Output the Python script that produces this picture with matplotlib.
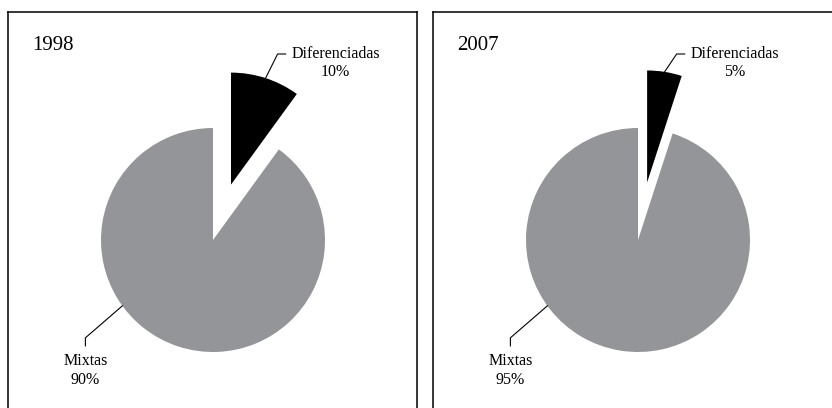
"""
Two pie charts: share of 'Diferenciadas' vs 'Mixtas' in 1998 and 2007.
Small slice exploded outwards, leader lines to serif labels.
"""
import numpy as np
import matplotlib
matplotlib.use('Agg')
import matplotlib.pyplot as plt

# data
years = ['1998', '2007']
categories = ['Diferenciadas', 'Mixtas']
shares_1998 = [10, 90]
shares_2007 = [5, 95]
all_shares = [shares_1998, shares_2007]

colors = ['#000000', '#939598']
plt.rcParams['font.family'] = ['Liberation Serif', 'DejaVu Serif']

W, H = 832, 408
fig = plt.figure(figsize=(W / 100, H / 100), dpi=100)
fig.patch.set_facecolor('white')

panel_w, panel_h = 409, 400
panel_left = [8, 433]
panel_top = 12

for k, (year, shares) in enumerate(zip(years, all_shares)):
    left = panel_left[k]
    bottom_px = panel_top + panel_h          # bottom of panel in pixels (from top)
    ax = fig.add_axes([left / W, (H - bottom_px) / H, panel_w / W, panel_h / H])

    cx, cy, r = 205, 172, 112
    # explode is given in data units by matplotlib, so scale by radius
    wedges, _ = ax.pie(shares, colors=colors, startangle=90, counterclock=False,
                       explode=[0.52 * r, 0], radius=r, center=(cx, cy),
                       frame=True, wedgeprops=dict(linewidth=0))
    ax.set_xlim(0, panel_w)
    ax.set_ylim(0, panel_h)
    ax.set_aspect('equal')
    ax.set_xticks([])
    ax.set_yticks([])
    for s in ax.spines.values():
        s.set_linewidth(1.1)
        s.set_color('black')

    ax.text(24, 367, year, fontsize=15, ha='left', va='center')

    # leader for the small (exploded) slice, from the middle of its outer arc
    w = wedges[0]
    mid = np.deg2rad((w.theta1 + w.theta2) / 2)
    sx = w.center[0] + w.r * np.cos(mid)
    sy = w.center[1] + w.r * np.sin(mid)
    ex, ey = sx + 12, 358
    ax.plot([sx, ex, ex + 8], [sy, ey, ey], color='black', lw=0.8,
            solid_joinstyle='miter')
    tx = ex + 8 + 6 + 44
    ax.text(tx, ey, categories[0], fontsize=11.5, ha='center', va='center')
    ax.text(tx, ey - 18, f'{shares[0]}%', fontsize=11.5,
            ha='center', va='center')

    # leader for the large slice
    ang = np.deg2rad(216)
    mx = cx + r * np.cos(ang)
    my = cy + r * np.sin(ang)
    bx, by = mx - 37, my - 32
    ax.plot([mx, bx, bx], [my, by, by - 8], color='black', lw=0.8,
            solid_joinstyle='miter')
    ax.text(bx, 51, categories[1], fontsize=11.5, ha='center', va='center')
    ax.text(bx, 32, f'{shares[1]}%', fontsize=11.5, ha='center', va='center')

fig.savefig('out.png', dpi=100, facecolor='white')
